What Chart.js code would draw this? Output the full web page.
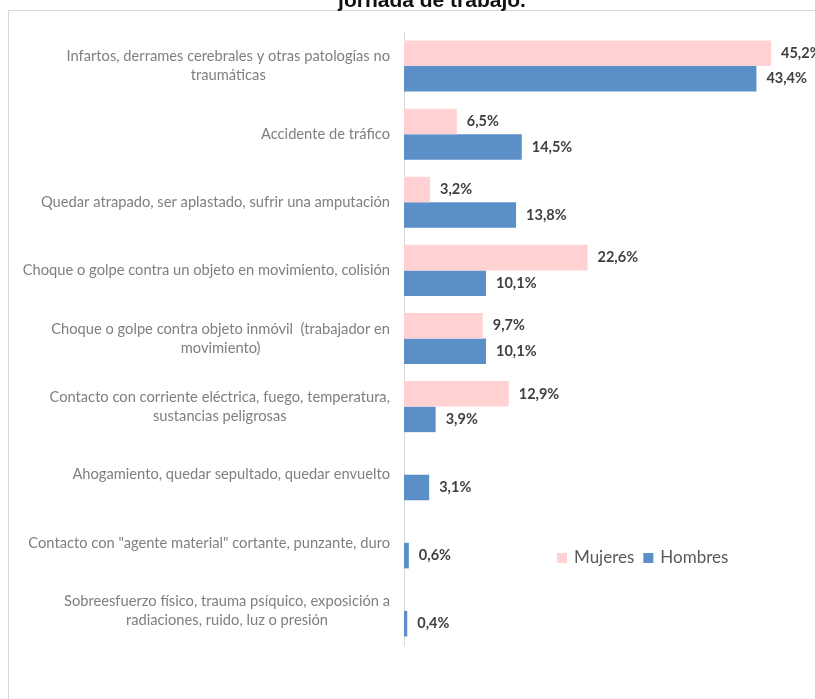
<!DOCTYPE html>
<html>
<head>
<meta charset="utf-8">
<script src="https://cdn.jsdelivr.net/npm/chart.js@4/dist/chart.umd.min.js"></script>
<style>
  html, body { margin: 0; padding: 0; background: #fff; overflow: hidden; }
  #frame {
    position: absolute; left: 8px; top: 10px; width: 900px; height: 900px;
    border: 1px solid #d9d9d9; box-sizing: border-box;
  }
  #wrap { position: absolute; left: 0; top: 0; width: 815px; height: 699px; }
</style>
</head>
<body>
<div id="frame"></div>
<div id="wrap"><canvas id="chart" width="815" height="699"></canvas></div>
<script>
const categories = [
  ["Infartos, derrames cerebrales y otras patologías no", "traumáticas"],
  ["Accidente de tráfico"],
  ["Quedar atrapado, ser aplastado, sufrir una amputación"],
  ["Choque o golpe contra un objeto en movimiento, colisión"],
  ["Choque o golpe contra objeto inmóvil  (trabajador en", "movimiento)"],
  ["Contacto con corriente eléctrica, fuego, temperatura,", "sustancias peligrosas"],
  ["Ahogamiento, quedar sepultado, quedar envuelto"],
  ["Contacto con \"agente material\" cortante, punzante, duro"],
  ["Sobreesfuerzo físico, trauma psíquico, exposición a", "radiaciones, ruido, luz o presión"],
];
const mujeres = [45.2, 6.5, 3.2, 22.6, 9.7, 12.9, 0, 0, 0];
const hombres = [43.4, 14.5, 13.8, 10.1, 10.1, 3.9, 3.1, 0.6, 0.4];
const seriesNames = ["Mujeres", "Hombres"];
const title = "jornada de trabajo.";

const PINK = "#ffd1d3";
const BLUE = "#5b8fc7";
const FONT = "Lato, 'Open Sans', sans-serif";

// category labels drawn centred line-by-line, right edge near the axis
const categoryLabels = {
  id: "categoryLabels",
  afterDraw(chart) {
    const ctx = chart.ctx;
    const y = chart.scales.y;
    const right = chart.chartArea.left - 14;
    const lineH = 19;
    ctx.save();
    ctx.font = "14.7px " + FONT;
    ctx.fillStyle = "#7f7f7f";
    ctx.textBaseline = "middle";
    ctx.textAlign = "center";
    categories.forEach((lines, i) => {
      const cy = y.getPixelForValue(i);
      const w = Math.max(...lines.map((l) => ctx.measureText(l).width));
      const cx = right - w / 2;
      const top = cy - ((lines.length - 1) * lineH) / 2;
      lines.forEach((l, j) => ctx.fillText(l, cx, top + j * lineH));
    });
    ctx.restore();
  },
};

const valueLabels = {
  id: "valueLabels",
  afterDatasetsDraw(chart) {
    const ctx = chart.ctx;
    ctx.save();
    ctx.font = "bold 14.5px " + FONT;
    ctx.fillStyle = "#404040";
    ctx.textBaseline = "middle";
    ctx.textAlign = "left";
    chart.data.datasets.forEach((ds, di) => {
      chart.getDatasetMeta(di).data.forEach((bar, i) => {
        const v = ds.data[i];
        if (!v) return;
        ctx.fillText(v.toFixed(1).replace(".", ",") + "%", bar.x + 10, bar.y);
      });
    });
    ctx.restore();
  },
};

const extras = {
  id: "extras",
  afterDraw(chart) {
    const ctx = chart.ctx;
    ctx.save();
    // title (cut off at the top in the source)
    ctx.font = "bold 21px 'Liberation Sans', Arial, sans-serif";
    ctx.fillStyle = "#111";
    ctx.textAlign = "center";
    ctx.textBaseline = "alphabetic";
    ctx.fillText(title, 432, 7);

    // legend
    ctx.font = "17px " + FONT;
    ctx.textBaseline = "middle";
    ctx.textAlign = "left";
    let x = 557;
    const ly = 558;
    [PINK, BLUE].forEach((c, i) => {
      ctx.fillStyle = c;
      ctx.fillRect(x, ly - 5, 10, 10);
      ctx.fillStyle = "#595959";
      ctx.fillText(seriesNames[i], x + 17, ly);
      x += 17 + ctx.measureText(seriesNames[i]).width + 9;
    });
    ctx.restore();
  },
};

new Chart(document.getElementById("chart"), {
  type: "bar",
  data: {
    labels: categories.map((c) => c.join(" ")),
    datasets: [
      { label: seriesNames[0], data: mujeres, backgroundColor: PINK },
      { label: seriesNames[1], data: hombres, backgroundColor: BLUE },
    ],
  },
  options: {
    indexAxis: "y",
    responsive: false,
    animation: false,
    categoryPercentage: 0.75,
    barPercentage: 1,
    layout: { padding: { top: 32, bottom: 54, left: 0, right: 5 } },
    scales: {
      x: { display: false, min: 0, max: 50 },
      y: {
        grid: { display: false, drawTicks: false },
        border: { display: true, color: "#d9d9d9", width: 1 },
        ticks: { display: false },
        afterFit: (scale) => { scale.width = 404; },
      },
    },
    plugins: {
      legend: { display: false },
      tooltip: { enabled: false },
    },
  },
  plugins: [categoryLabels, valueLabels, extras],
});
</script>
</body>
</html>
